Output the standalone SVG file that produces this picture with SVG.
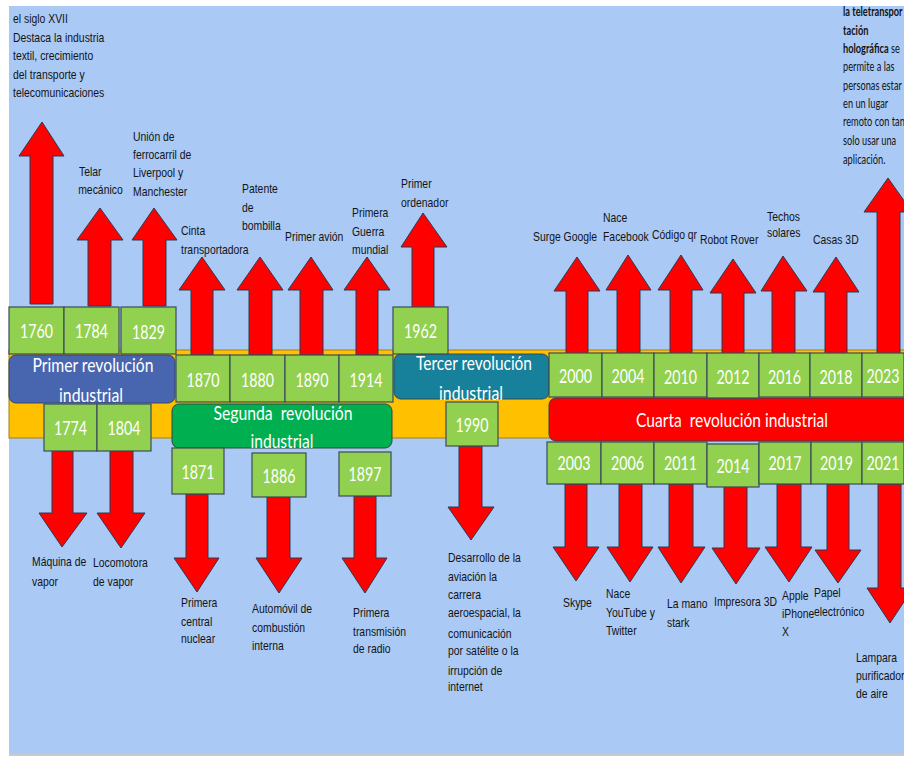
<svg xmlns="http://www.w3.org/2000/svg" width="904" height="760" viewBox="0 0 904 760">
  <style>
    .yr { fill: #92D050; stroke: #3B4B5C; stroke-width: 1.2; }
    .yt { font-family: Lato, "Open Sans", sans-serif; font-size: 20px; fill: #ffffff; text-anchor: middle; }
    .ar { fill: #FF0000; stroke: #2B3A55; stroke-width: 1; stroke-linejoin: miter; }
    .lb { font-family: "Liberation Sans", Arial, sans-serif; font-size: 13px; fill: #141414; }
    .rb { font-family: Lato, "Open Sans", sans-serif; font-size: 14px; fill: #141414; }
    .rt { font-family: Lato, "Open Sans", sans-serif; font-size: 20px; fill: #ffffff; text-anchor: middle; }
  </style>

  <!-- page and backdrop -->
  <rect x="0" y="0" width="904" height="760" fill="#ffffff"/>
  <rect x="9" y="6" width="895" height="748" fill="#AAC9F5"/>
  <rect x="9" y="754" width="895" height="2" fill="#C9C9C9"/>

  <!-- timeline band -->
  <g id="timeline-band">
    <rect x="9" y="350" width="900" height="88" fill="#FFC000" stroke="#A57E12" stroke-width="1"/>
  </g>

  <!-- block arrows from each year to its event text -->
  <g id="connectors">
    <!-- upward -->
    <polygon class="ar" points="30,304 30,156 19,156 42,122 64,156 53,156 53,304"/>
    <polygon class="ar" points="88,306 88,240 77,240 100,208 123,240 111,240 111,306"/>
    <polygon class="ar" points="143,306 143,240 132,240 154,208 177,240 166,240 166,306"/>
    <polygon class="ar" points="191,355 191,290 179,290 202,257 225,290 213,290 213,355"/>
    <polygon class="ar" points="249,355 249,290 237,290 260,257 283,290 272,290 272,355"/>
    <polygon class="ar" points="300,355 300,290 288,290 311,257 333,290 323,290 323,355"/>
    <polygon class="ar" points="356,355 356,290 344,290 367,257 390,290 378,290 378,355"/>
    <polygon class="ar" points="412,308 412,247 401,247 423,213 447,247 434,247 434,308"/>
    <polygon class="ar" points="566,354 566,291 554,291 577,257 600,291 588,291 588,354"/>
    <polygon class="ar" points="617,354 617,290 606,290 628,255 651,290 640,290 640,354"/>
    <polygon class="ar" points="670,354 670,290 658,290 681,255 703,290 692,290 692,354"/>
    <polygon class="ar" points="722,354 722,293 710,293 733,259 756,293 744,293 744,354"/>
    <polygon class="ar" points="772,354 772,291 761,291 783,256 807,291 795,291 795,354"/>
    <polygon class="ar" points="825,354 825,292 813,292 836,257 859,292 847,292 847,354"/>
    <polygon class="ar" points="877,354 877,212 864,212 888,178 912,212 900,212 900,354"/>
    <!-- downward -->
    <polygon class="ar" points="52,451 52,513 39,513 62,547 87,513 73,513 73,451"/>
    <polygon class="ar" points="110,451 110,513 97,513 121,548 145,513 133,513 133,451"/>
    <polygon class="ar" points="186,494 186,558 174,558 197,592 219,558 208,558 208,494"/>
    <polygon class="ar" points="267,497 267,558 256,558 279,593 302,558 290,558 290,497"/>
    <polygon class="ar" points="354,496 354,558 342,558 365,593 387,558 376,558 376,496"/>
    <polygon class="ar" points="459,446 459,507 448,507 471,540 494,507 482,507 482,446"/>
    <polygon class="ar" points="565,484 565,547 553,547 576,581 599,547 587,547 587,484"/>
    <polygon class="ar" points="619,484 619,547 607,547 630,582 653,547 642,547 642,484"/>
    <polygon class="ar" points="669,484 669,547 658,547 681,583 705,547 693,547 693,484"/>
    <polygon class="ar" points="724,486 724,548 712,548 736,584 760,548 747,548 747,486"/>
    <polygon class="ar" points="777,484 777,547 765,547 789,582 812,547 801,547 801,484"/>
    <polygon class="ar" points="827,484 827,550 815,550 838,583 861,550 849,550 849,484"/>
    <polygon class="ar" points="878,484 878,588 867,588 890,623 913,588 901,588 901,484"/>
  </g>

  <!-- revolution periods -->
  <g id="rev-primera">
    <rect x="9" y="355" width="166" height="48" rx="7" fill="#4865AF" stroke="#34466E" stroke-width="1"/>
    <text class="rt" x="93" y="372" textLength="121" lengthAdjust="spacingAndGlyphs">Primer revolución</text>
    <text class="rt" x="91" y="402" textLength="64" lengthAdjust="spacingAndGlyphs">industrial</text>
  </g>
  <g id="rev-segunda">
    <rect x="172" y="404" width="220" height="44" rx="7" fill="#00B050" stroke="#2F4A3A" stroke-width="1"/>
    <text class="rt" x="283" y="420" textLength="139" lengthAdjust="spacingAndGlyphs" xml:space="preserve">Segunda  revolución</text>
    <text class="rt" x="282" y="448" textLength="63" lengthAdjust="spacingAndGlyphs">industrial</text>
  </g>
  <g id="rev-tercera">
    <rect x="394" y="354" width="155" height="45" rx="7" fill="#17809A" stroke="#2B4A5A" stroke-width="1"/>
    <text class="rt" x="474" y="370" textLength="116" lengthAdjust="spacingAndGlyphs">Tercer revolución</text>
    <text class="rt" x="471" y="400" textLength="64" lengthAdjust="spacingAndGlyphs">industrial</text>
  </g>
  <g id="rev-cuarta">
    <rect x="549" y="398" width="370" height="43" rx="7" fill="#FF0000" stroke="#3B3B55" stroke-width="1"/>
    <text class="rt" x="732" y="427" textLength="192" lengthAdjust="spacingAndGlyphs" xml:space="preserve">Cuarta  revolución industrial</text>
  </g>

  <!-- events: year box + description -->
  <g id="ev-1760">
    <rect class="yr" x="9" y="307" width="55" height="47"/>
    <text class="yt" x="36.5" y="338" textLength="33" lengthAdjust="spacingAndGlyphs">1760</text>
    <g class="lb" transform="translate(13 0) scale(0.8 1)">
      <text y="23.5">el siglo XVII</text>
      <text y="42.5">Destaca la industria</text>
      <text y="60.5">textil, crecimiento</text>
      <text y="79.5">del transporte y</text>
      <text y="97.5">telecomunicaciones</text>
    </g>
  </g>
  <g id="ev-1784">
    <rect class="yr" x="64" y="307" width="55" height="47"/>
    <text class="yt" x="91.5" y="338" textLength="33" lengthAdjust="spacingAndGlyphs">1784</text>
    <g class="lb" transform="translate(79 0) scale(0.8 1)">
      <text y="176.5">Telar</text>
      <text x="-1" y="194.5">mecánico</text>
    </g>
  </g>
  <g id="ev-1829">
    <rect class="yr" x="121" y="307" width="55" height="47"/>
    <text class="yt" x="148.5" y="339" textLength="33" lengthAdjust="spacingAndGlyphs">1829</text>
    <g class="lb" transform="translate(133 0) scale(0.8 1)" xml:space="preserve">
      <text y="141.5">Unión de</text>
      <text y="159.5">ferrocarril  de</text>
      <text y="177.5">Liverpool  y</text>
      <text y="196.5">Manchester</text>
    </g>
  </g>
  <g id="ev-1774">
    <rect class="yr" x="44" y="404" width="53" height="47"/>
    <text class="yt" x="70.5" y="435" textLength="33" lengthAdjust="spacingAndGlyphs">1774</text>
    <g class="lb" transform="translate(32 0) scale(0.8 1)">
      <text y="566.5">Máquina de</text>
      <text y="586.5">vapor</text>
    </g>
  </g>
  <g id="ev-1804">
    <rect class="yr" x="97" y="404" width="54" height="47"/>
    <text class="yt" x="124" y="435" textLength="33" lengthAdjust="spacingAndGlyphs">1804</text>
    <g class="lb" transform="translate(93 0) scale(0.8 1)">
      <text y="567.5">Locomotora</text>
      <text y="586.5">de vapor</text>
    </g>
  </g>
  <g id="ev-1870">
    <rect class="yr" x="176" y="355" width="54" height="47"/>
    <text class="yt" x="203" y="387" textLength="33" lengthAdjust="spacingAndGlyphs">1870</text>
    <g class="lb" transform="translate(181 0) scale(0.8 1)">
      <text y="235.5">Cinta</text>
      <text y="254.5">transportadora</text>
    </g>
  </g>
  <g id="ev-1880">
    <rect class="yr" x="230" y="355" width="55" height="47"/>
    <text class="yt" x="257.5" y="387" textLength="33" lengthAdjust="spacingAndGlyphs">1880</text>
    <g class="lb" transform="translate(242 0) scale(0.8 1)">
      <text y="193.5">Patente</text>
      <text y="212.5">de</text>
      <text y="230.5">bombilla</text>
    </g>
  </g>
  <g id="ev-1890">
    <rect class="yr" x="285" y="355" width="54" height="47"/>
    <text class="yt" x="312" y="387" textLength="33" lengthAdjust="spacingAndGlyphs">1890</text>
    <g class="lb" transform="translate(285 0) scale(0.8 1)">
      <text y="241.5">Primer avión</text>
    </g>
  </g>
  <g id="ev-1914">
    <rect class="yr" x="339" y="355" width="54" height="47"/>
    <text class="yt" x="366" y="387" textLength="33" lengthAdjust="spacingAndGlyphs">1914</text>
    <g class="lb" transform="translate(352 0) scale(0.8 1)">
      <text y="217.5">Primera</text>
      <text y="236.5">Guerra</text>
      <text y="254.5">mundial</text>
    </g>
  </g>
  <g id="ev-1871">
    <rect class="yr" x="172" y="448" width="52" height="46"/>
    <text class="yt" x="198" y="479" textLength="33" lengthAdjust="spacingAndGlyphs">1871</text>
    <g class="lb" transform="translate(181 0) scale(0.8 1)">
      <text y="607.5">Primera</text>
      <text y="626.5">central</text>
      <text y="643.5">nuclear</text>
    </g>
  </g>
  <g id="ev-1886">
    <rect class="yr" x="252" y="453" width="54" height="44"/>
    <text class="yt" x="279" y="483" textLength="33" lengthAdjust="spacingAndGlyphs">1886</text>
    <g class="lb" transform="translate(252 0) scale(0.8 1)">
      <text y="613.5">Automóvil de</text>
      <text y="632.5">combustión</text>
      <text y="650.5">interna</text>
    </g>
  </g>
  <g id="ev-1897">
    <rect class="yr" x="339" y="452" width="52" height="44"/>
    <text class="yt" x="365" y="481" textLength="33" lengthAdjust="spacingAndGlyphs">1897</text>
    <g class="lb" transform="translate(353 0) scale(0.8 1)">
      <text y="617.5">Primera</text>
      <text y="636.5">transmisión</text>
      <text y="653.5">de radio</text>
    </g>
  </g>
  <g id="ev-1962">
    <rect class="yr" x="393" y="307" width="55" height="47"/>
    <text class="yt" x="420.5" y="338" textLength="33" lengthAdjust="spacingAndGlyphs">1962</text>
    <g class="lb" transform="translate(401 0) scale(0.8 1)">
      <text y="188.5">Primer</text>
      <text y="207.5">ordenador</text>
    </g>
  </g>
  <g id="ev-1990">
    <rect class="yr" x="446" y="402" width="52" height="44"/>
    <text class="yt" x="472" y="432" textLength="33" lengthAdjust="spacingAndGlyphs">1990</text>
    <g class="lb" transform="translate(448 0) scale(0.8 1)">
      <text y="562.5">Desarrollo de la</text>
      <text y="581.5">aviación la</text>
      <text y="599.5">carrera</text>
      <text y="617.5">aeroespacial, la</text>
      <text y="638.5">comunicación</text>
      <text y="655.5">por satélite o la</text>
      <text y="675.5">irrupción de</text>
      <text y="691.5">internet</text>
    </g>
  </g>
  <g id="ev-2000">
    <rect class="yr" x="549" y="353" width="53" height="44"/>
    <text class="yt" x="575.5" y="383" textLength="33" lengthAdjust="spacingAndGlyphs">2000</text>
    <g class="lb" transform="translate(533 0) scale(0.8 1)">
      <text y="241.5">Surge Google</text>
    </g>
  </g>
  <g id="ev-2004">
    <rect class="yr" x="602" y="353" width="52" height="44"/>
    <text class="yt" x="628" y="383" textLength="33" lengthAdjust="spacingAndGlyphs">2004</text>
    <g class="lb" transform="translate(603 0) scale(0.8 1)">
      <text y="222.5">Nace</text>
      <text y="241.5">Facebook</text>
    </g>
  </g>
  <g id="ev-2010">
    <rect class="yr" x="654" y="353" width="53" height="44"/>
    <text class="yt" x="680.5" y="384" textLength="33" lengthAdjust="spacingAndGlyphs">2010</text>
    <g class="lb" transform="translate(652 0) scale(0.8 1)">
      <text y="239.5">Código qr</text>
    </g>
  </g>
  <g id="ev-2012">
    <rect class="yr" x="707" y="353" width="52" height="45"/>
    <text class="yt" x="733" y="384" textLength="33" lengthAdjust="spacingAndGlyphs">2012</text>
    <g class="lb" transform="translate(700 0) scale(0.8 1)">
      <text y="244.5">Robot Rover</text>
    </g>
  </g>
  <g id="ev-2016">
    <rect class="yr" x="759" y="353" width="51" height="44"/>
    <text class="yt" x="784.5" y="384" textLength="33" lengthAdjust="spacingAndGlyphs">2016</text>
    <g class="lb" transform="translate(767 0) scale(0.8 1)">
      <text y="221.5">Techos</text>
      <text y="237.5">solares</text>
    </g>
  </g>
  <g id="ev-2018">
    <rect class="yr" x="810" y="353" width="52" height="44"/>
    <text class="yt" x="836" y="384" textLength="33" lengthAdjust="spacingAndGlyphs">2018</text>
    <g class="lb" transform="translate(813 0) scale(0.8 1)">
      <text y="244.5">Casas 3D</text>
    </g>
  </g>
  <g id="ev-2023">
    <rect class="yr" x="862" y="353" width="42" height="44"/>
    <text class="yt" transform="translate(883 383) scale(0.71 1)">2023</text>
    <g class="rb" transform="translate(843 0) scale(0.66 1)">
      <text y="16.5" font-weight="bold">la teletranspor</text>
      <text y="35.5" font-weight="bold">tación</text>
      <text y="53.5"><tspan font-weight="bold">holográfica</tspan> se</text>
      <text y="71.5">permite a las</text>
      <text y="90.5">personas estar</text>
      <text y="108.5">en un lugar</text>
      <text y="126.5">remoto con tan</text>
      <text y="145.5">solo usar una</text>
      <text y="164.5">aplicación.</text>
    </g>
  </g>
  <g id="ev-2003">
    <rect class="yr" x="547" y="442" width="54" height="42"/>
    <text class="yt" x="574" y="470" textLength="33" lengthAdjust="spacingAndGlyphs">2003</text>
    <g class="lb" transform="translate(563 0) scale(0.8 1)">
      <text y="607.5">Skype</text>
    </g>
  </g>
  <g id="ev-2006">
    <rect class="yr" x="601" y="442" width="53" height="42"/>
    <text class="yt" x="627.5" y="470" textLength="33" lengthAdjust="spacingAndGlyphs">2006</text>
    <g class="lb" transform="translate(606 0) scale(0.8 1)">
      <text y="598.5">Nace</text>
      <text y="617.5">YouTube y</text>
      <text y="635.5">Twitter</text>
    </g>
  </g>
  <g id="ev-2011">
    <rect class="yr" x="654" y="442" width="53" height="42"/>
    <text class="yt" x="680.5" y="470" textLength="33" lengthAdjust="spacingAndGlyphs">2011</text>
    <g class="lb" transform="translate(667 0) scale(0.8 1)">
      <text y="608.5">La mano</text>
      <text y="627.5">stark</text>
    </g>
  </g>
  <g id="ev-2014">
    <rect class="yr" x="707" y="444" width="52" height="43"/>
    <text class="yt" x="733" y="473" textLength="33" lengthAdjust="spacingAndGlyphs">2014</text>
    <g class="lb" transform="translate(714 0) scale(0.8 1)">
      <text y="606.5">Impresora 3D</text>
    </g>
  </g>
  <g id="ev-2017">
    <rect class="yr" x="759" y="442" width="52" height="42"/>
    <text class="yt" x="785" y="470" textLength="33" lengthAdjust="spacingAndGlyphs">2017</text>
    <g class="lb" transform="translate(782 0) scale(0.8 1)">
      <text y="600.5">Apple</text>
      <text y="618.5">iPhone</text>
      <text y="636.5">X</text>
    </g>
  </g>
  <g id="ev-2019">
    <rect class="yr" x="811" y="442" width="51" height="42"/>
    <text class="yt" x="836.5" y="470" textLength="33" lengthAdjust="spacingAndGlyphs">2019</text>
    <g class="lb" transform="translate(814 0) scale(0.8 1)">
      <text y="597.5">Papel</text>
      <text y="616.5">electrónico</text>
    </g>
  </g>
  <g id="ev-2021">
    <rect class="yr" x="862" y="442" width="42" height="42"/>
    <text class="yt" transform="translate(883 470) scale(0.71 1)">2021</text>
    <g class="lb" transform="translate(856 0) scale(0.8 1)">
      <text y="662.5">Lampara</text>
      <text y="680.5">purificador</text>
      <text y="698.5">de aire</text>
    </g>
  </g>
</svg>
